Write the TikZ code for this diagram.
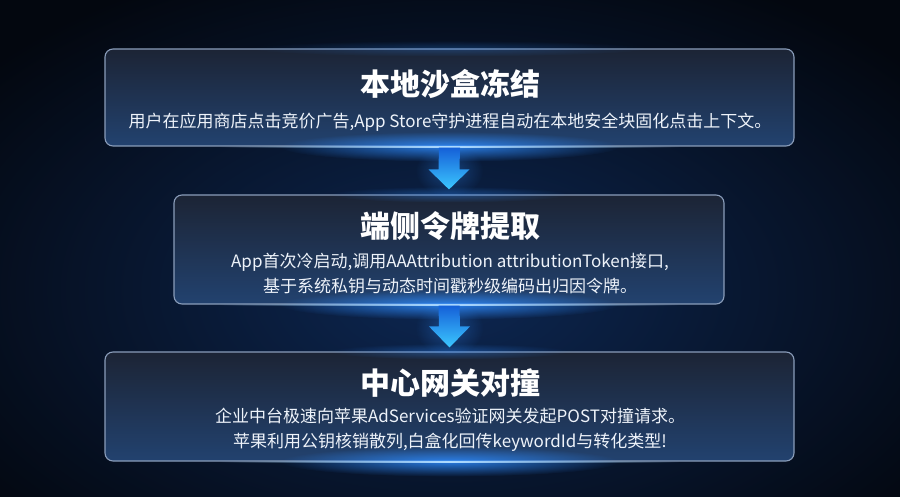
\documentclass[tikz,border=0pt]{standalone}
\usepackage{fontspec}
\setmainfont{Noto Sans CJK SC}
\usetikzlibrary{fadings,calc}
\tikzfading[name=glowfade, inner color=transparent!0, outer color=transparent!100]
\tikzfading[name=midfade, left color=transparent!100, right color=transparent!100, middle color=transparent!0]
\definecolor{bgin}{HTML}{0D2752}
\definecolor{bgout}{HTML}{03070F}
\definecolor{boxtop}{HTML}{1C2435}
\definecolor{boxbot}{HTML}{22426F}
\definecolor{boxedge}{HTML}{8A9DBA}
\definecolor{glowc}{HTML}{2E8CFF}
\definecolor{glowcore}{HTML}{B0DCFF}
\definecolor{arrtop}{HTML}{1560D8}
\definecolor{arrbot}{HTML}{3CC8FF}
\definecolor{bodytext}{HTML}{EEF3FA}
\tikzset{
  box/.style={rounded corners=8pt, draw=boxedge, line width=1.1pt, top color=boxtop, bottom color=boxbot, inner sep=0pt},
  titletext/.style={text=white, font=\bfseries\fontsize{30}{36}\selectfont, inner sep=0pt},
  bodytxt/.style={text=bodytext, font=\fontsize{17}{25}\selectfont, inner sep=0pt, align=center},
  flowarrow/.style={top color=arrtop, bottom color=arrbot}
}
\begin{document}
\begin{tikzpicture}[x=1pt,y=-1pt]
\useasboundingbox (0,0) rectangle (900,497);
\shade[inner color=bgin, outer color=bgout] (-150,-60) rectangle (1050,640);

% boxes
\node[box, minimum width=689pt, minimum height=97pt] (b1) at (449.5,97.5) {};
\node[box, minimum width=550pt, minimum height=109pt] (b2) at (449,249.5) {};
\node[box, minimum width=689pt, minimum height=109pt] (b3) at (449.5,406.5) {};

% glows
\foreach \b in {b1,b2,b3}{
  \fill[glowc, path fading=glowfade, opacity=0.85] (\b.south) ellipse (170pt and 15pt);
  \fill[glowcore, path fading=midfade] ($(\b.south)+(-230,-1)$) rectangle ($(\b.south)+(230,1)$);
}
\foreach \b in {b2,b3}{
  \fill[glowc, path fading=glowfade, opacity=0.35] (\b.north) ellipse (120pt and 8pt);
}
\fill[glowc, path fading=glowfade, opacity=0.25] (b1.north) ellipse (200pt and 8pt);

% arrow glows
\fill[glowc, path fading=glowfade, opacity=0.35] ($(b1.south)!0.5!(b2.north)$) ellipse (34pt and 26pt);
\fill[glowc, path fading=glowfade, opacity=0.35] ($(b2.south)!0.5!(b3.north)$) ellipse (34pt and 28pt);

% arrows
\shade[flowarrow] ($(b1.south)+(-10.5,1)$) -- ($(b1.south)+(10.5,1)$) -- ($(b2.north)+(10.5,-25)$) -- ($(b2.north)+(20.5,-25)$) -- ($(b2.north)+(0,-5)$) -- ($(b2.north)+(-20.5,-25)$) -- ($(b2.north)+(-10.5,-25)$) -- cycle;
\shade[flowarrow] ($(b2.south)+(-10.5,1)$) -- ($(b2.south)+(10.5,1)$) -- ($(b3.north)+(10.5,-25)$) -- ($(b3.north)+(20.5,-25)$) -- ($(b3.north)+(0,-4)$) -- ($(b3.north)+(-20.5,-25)$) -- ($(b3.north)+(-10.5,-25)$) -- cycle;

% texts
\node[titletext] (t1) at (450,84) {本地沙盒冻结};
\node[bodytxt] (d1) at (450,122) {用户在应用商店点击竞价广告,App Store守护进程自动在本地安全块固化点击上下文。};
\node[titletext] (t2) at (450,226) {端侧令牌提取};
\node[bodytxt] (d2) at (450,273.5) {App首次冷启动,调用AAAttribution attributionToken接口,\\基于系统私钥与动态时间戳秒级编码出归因令牌。};
\node[titletext] (t3) at (450,383) {中心网关对撞};
\node[bodytxt] (d3) at (450,430) {企业中台极速向苹果AdServices验证网关发起POST对撞请求。\\苹果利用公钥核销散列,白盒化回传keywordId与转化类型!};
\end{tikzpicture}
\end{document}
